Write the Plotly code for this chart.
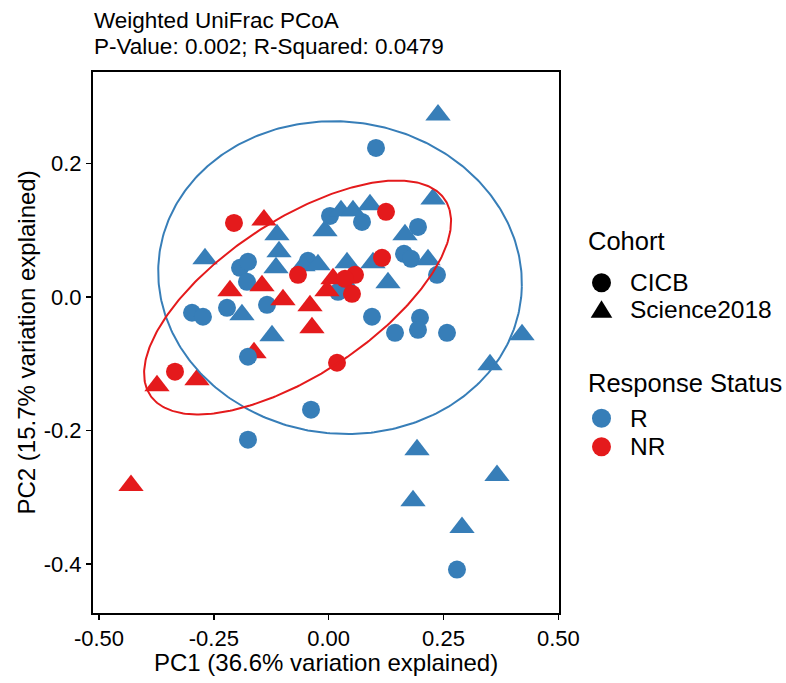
import numpy as np
import plotly.graph_objects as go

# ---------------- data ----------------
# points listed in drawing order
pc1 = [
    # CICB / R
    0.1031, 0.0029, 0.0726, 0.1945, -0.1930, -0.1756, -0.0450, 0.1641, 0.1793, 0.2359,
    -0.1778, -0.2975, -0.2736, -0.2213, -0.1342, 0.0944, 0.1445, 0.1989, 0.1945, 0.2577,
    -0.0384, -0.1756, 0.2794, 0.0204, 0.0400,
    # Science2018 / R
    0.2381, 0.2272, 0.0269, 0.0530, 0.0900, -0.0079, 0.1662, -0.1081, -0.1146, -0.2692,
    -0.0558, -0.0232, 0.0400, 0.0966, 0.2163, 0.1292, -0.1887, -0.1233, 0.4210, 0.3513,
    0.1924, 0.3665, 0.1837, 0.2903,
    # Science2018 / NR
    -0.1408, -0.2148, -0.1451, -0.0994, -0.0406, -0.0363, 0.0095, -0.0036, -0.1625, -0.3737,
    -0.2866, -0.4303,
    # CICB / NR
    -0.2061, 0.1249, 0.1162, -0.0667, 0.0574, 0.0356, 0.0508, -0.3345, 0.0182,
    # drawn last
    -0.1125, -0.1756,
]
pc2 = [
    0.2233, 0.1215, 0.1125, 0.1050, 0.0437, 0.0527, 0.0542, 0.0646, 0.0572, 0.0332,
    0.0227, -0.0236, -0.0296, -0.0162, -0.0117, -0.0296, -0.0536, -0.0311, -0.0491, -0.0536,
    -0.1688, -0.2137, -0.4082, 0.0078, 0.0123,
    0.2726, 0.1469, 0.1290, 0.1290, 0.1380, 0.0991, 0.0931, 0.0676, 0.0437, 0.0572,
    0.0467, 0.0482, 0.0512, 0.0512, 0.0557, 0.0212, -0.0266, -0.0581, -0.0566, -0.1015,
    -0.2286, -0.2675, -0.3050, -0.3453,
    0.1155, 0.0093, 0.0168, -0.0042, -0.0132, -0.0461, 0.0272, 0.0093, -0.0835, -0.1329,
    -0.1239, -0.2825,
    0.1110, 0.1275, 0.0587, 0.0332, 0.0332, 0.0272, 0.0048, -0.1119, -0.0985,
    0.0931, -0.0895,
]
cohort = (["CICB"] * 25 + ["Science2018"] * 24 + ["Science2018"] * 12 + ["CICB"] * 9
          + ["Science2018", "CICB"])
status = (["R"] * 25 + ["R"] * 24 + ["NR"] * 12 + ["NR"] * 9 + ["R", "R"])

x_tick_vals = [-0.50, -0.25, 0.00, 0.25, 0.50]
x_tick_text = ["-0.50", "-0.25", "0.00", "0.25", "0.50"]
y_tick_vals = [-0.4, -0.2, 0.0, 0.2]
y_tick_text = ["-0.4", "-0.2", "0.0", "0.2"]

# 95% ellipses per response status (centre, semi-axes, rotation)
ellipse_status = ["R", "NR"]
ellipse_cx = [0.0248, -0.0676]
ellipse_cy = [0.0290, -0.0007]
ellipse_a = [0.396, 0.356]
ellipse_b = [0.2340, 0.125]
ellipse_angle_deg = [-2.0, 21.6]

title_lines = ["Weighted UniFrac PCoA", "P-Value: 0.002; R-Squared: 0.0479"]
x_title = "PC1 (36.6% variation explained)"
y_title = "PC2 (15.7% variation explained)"

# ---------------- styles ----------------
COLORS = {"R": "#377EB8", "NR": "#E41A1C"}
SYMBOLS = {"CICB": "circle", "Science2018": "triangle-up"}
SIZES = {"CICB": 18, "Science2018": 22}
FONT = "Liberation Sans, Arial, Helvetica, sans-serif"

W, H = 786, 683
L, R, T, B = 93, 559, 72, 613


def paper_x(px):
    return (px - L) / (R - L)


def paper_y(py):
    return (B - py) / (B - T)


fig = go.Figure()

fig.add_trace(go.Scatter(
    x=pc1, y=pc2, mode="markers",
    marker=dict(
        symbol=[SYMBOLS[c] for c in cohort],
        color=[COLORS[s] for s in status],
        size=[SIZES[c] for c in cohort],
        line=dict(width=0),
        opacity=1,
    ),
    showlegend=False, hoverinfo="skip",
))

t = np.linspace(0, 2 * np.pi, 361)
for s, cx, cy, a, b, ang in zip(ellipse_status, ellipse_cx, ellipse_cy,
                                ellipse_a, ellipse_b, ellipse_angle_deg):
    th = np.deg2rad(ang)
    ex = cx + a * np.cos(t) * np.cos(th) - b * np.sin(t) * np.sin(th)
    ey = cy + a * np.cos(t) * np.sin(th) + b * np.sin(t) * np.cos(th)
    fig.add_trace(go.Scatter(x=ex, y=ey, mode="lines",
                             line=dict(color=COLORS[s], width=2),
                             showlegend=False, hoverinfo="skip"))

axis_common = dict(
    showgrid=False, zeroline=False, showline=True, mirror=True,
    linecolor="black", linewidth=2, ticks="outside", ticklen=5,
    tickwidth=1.5, tickcolor="black", tickfont=dict(size=22, color="black"),
)
fig.update_xaxes(range=[-0.513, 0.5015], tickvals=x_tick_vals, ticktext=x_tick_text,
                 **axis_common)
fig.update_yaxes(range=[-0.4733, 0.337], tickvals=y_tick_vals, ticktext=y_tick_text,
                 **axis_common)

annotations = []
# title
for txt, cy in zip(title_lines, [20.5, 46.5]):
    annotations.append(dict(text=txt, xref="paper", yref="paper", x=0, y=paper_y(cy),
                            xanchor="left", yanchor="middle", showarrow=False,
                            borderpad=0, font=dict(size=22.5, color="black")))
# axis titles
annotations.append(dict(text=x_title, xref="paper", yref="paper", x=0.5, y=paper_y(662),
                        xanchor="center", yanchor="middle", showarrow=False, borderpad=0,
                        font=dict(size=24, color="black")))
annotations.append(dict(text=y_title, xref="paper", yref="paper", x=paper_x(26), y=0.5,
                        xanchor="center", yanchor="middle", showarrow=False, borderpad=0,
                        textangle=-90, font=dict(size=24, color="black")))

# legend (drawn manually)
legend_titles = [("Cohort", 240.7), ("Response Status", 383.3)]
for txt, cy in legend_titles:
    annotations.append(dict(text=txt, xref="paper", yref="paper", x=paper_x(586.5),
                            y=paper_y(cy), xanchor="left", yanchor="middle",
                            showarrow=False, borderpad=0, font=dict(size=25.5, color="black")))
legend_items = [("CICB", 282.8, "circle", "black"),
                ("Science2018", 309.2, "triangle", "black"),
                ("R", 418.3, "circle", COLORS["R"]),
                ("NR", 446.7, "circle", COLORS["NR"])]
shapes = []
for txt, cy, kind, col in legend_items:
    annotations.append(dict(text=txt, xref="paper", yref="paper", x=paper_x(629),
                            y=paper_y(cy), xanchor="left", yanchor="middle",
                            showarrow=False, borderpad=0, font=dict(size=24.5, color="black")))
    if kind == "circle":
        shapes.append(dict(type="circle", xref="paper", yref="paper",
                           xsizemode="pixel", ysizemode="pixel",
                           xanchor=paper_x(601.5), yanchor=paper_y(cy),
                           x0=-9.5, x1=9.5, y0=-9.5, y1=9.5,
                           fillcolor=col, line=dict(width=0)))
    else:
        shapes.append(dict(type="path", xref="paper", yref="paper",
                           xsizemode="pixel", ysizemode="pixel",
                           xanchor=paper_x(601.5), yanchor=paper_y(cy),
                           path="M-10.8,-8.6 L10.8,-8.6 L0,8.9 Z",
                           fillcolor=col, line=dict(width=0)))

fig.update_layout(
    width=W, height=H,
    margin=dict(l=L, r=W - R, t=T, b=H - B, autoexpand=False),
    paper_bgcolor="white", plot_bgcolor="white",
    showlegend=False,
    font=dict(family=FONT, color="black"),
    annotations=annotations,
    shapes=shapes,
)

fig.write_html("out.html",
               config={"displayModeBar": False, "staticPlot": True},
               post_script="document.body.style.margin='0px';document.body.style.padding='0px';")
